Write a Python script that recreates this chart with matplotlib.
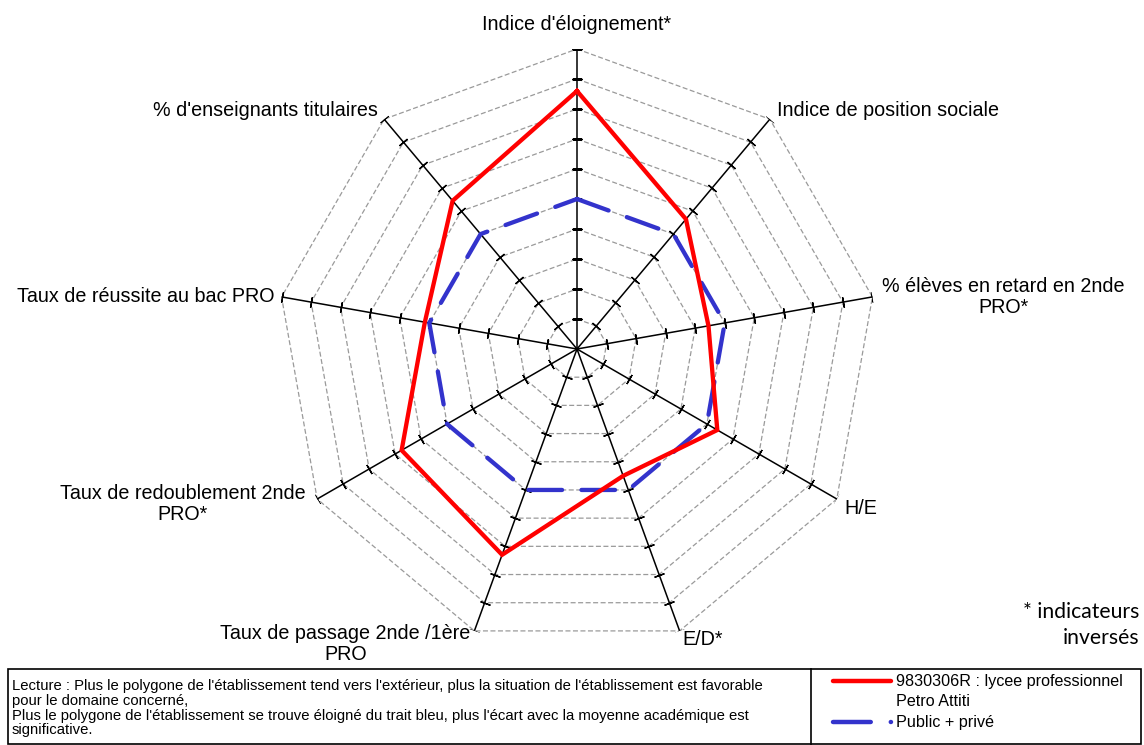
import numpy as np
import matplotlib
matplotlib.use("Agg")
import matplotlib.pyplot as plt
from matplotlib.patches import Rectangle
from matplotlib.lines import Line2D

# axes of the radar, clockwise from the top
labels = ["Indice d'éloignement*", "Indice de position sociale",
          "% élèves en retard en 2nde\nPRO*", "H/E", "E/D*",
          "Taux de passage 2nde /1ère\nPRO", "Taux de redoublement 2nde\nPRO*",
          "Taux de réussite au bac PRO", "% d'enseignants titulaires"]
etab = [8.6, 5.65, 4.45, 5.4, 4.5, 7.3, 6.75, 5.15, 6.45]   # 9830306R
acad = [5, 5, 5, 5, 5, 5, 5, 5, 5]                          # Public + privé
rings = np.arange(1, 11)

etab_name = "9830306R : lycee professionnel\nPetro Attiti"
acad_name = "Public + privé"
lecture = ("Lecture : Plus le polygone de l'établissement tend vers l'extérieur, plus la situation de l'établissement est favorable\n"
           "pour le domaine concerné,\n"
           "Plus le polygone de l'établissement se trouve éloigné du trait bleu, plus l'écart avec la moyenne académique est\n"
           "significative.")

plt.rcParams['font.family'] = ['Liberation Sans', 'DejaVu Sans']

W, H = 1144, 745
fig = plt.figure(figsize=(W / 100, H / 100), dpi=100)
cx, cy, R = 577, 349, 300
ax = fig.add_axes([(cx - R) / W, (H - cy - R) / H, 2 * R / W, 2 * R / H], projection='polar')
ax.set_theta_offset(np.pi / 2)
ax.set_theta_direction(-1)
ax.set_ylim(0, 10)
ax.grid(False)
ax.spines['polar'].set_visible(False)
ax.set_xticks([])
ax.set_yticks([])
ax.patch.set_visible(False)

n = len(labels)
ang = np.arange(n) * 2 * np.pi / n
ang_c = np.append(ang, ang[0])

# dashed polygon grid
for k in rings:
    ax.plot(ang_c, [k] * (n + 1), color='#9a9a9a', lw=0.9, ls=(0, (4, 2)), zorder=1)

# axes lines with ticks
for i, a in enumerate(ang):
    ax.plot([a, a], [0, rings[-1]], color='black', lw=1.1, zorder=2)
    rot = 90 - np.degrees(a)
    ax.plot([a] * len(rings), rings, ls='none', marker=(2, 2, rot),
            ms=7.5, mec='black', mew=1.0, zorder=2)

ax.plot(ang_c, etab + etab[:1], color='#ff0000', lw=3.1, zorder=4, solid_joinstyle='miter')
ax.plot(ang_c, acad + acad[:1], color='#3333cc', lw=3.1, zorder=3,
        dashes=(7.8, 4.5), dash_capstyle='round')

# axis labels
offs = [(0, 24, 'center', 'center'), (7, 9, 'left', 'center'), (10, 0, 'left', 'center'),
        (8, -9, 'left', 'center'), (3, -9, 'left', 'center'), (-4, -13, 'right', 'center'),
        (-12, -5, 'right', 'center'), (-7, 0, 'right', 'center'), (-6, 9, 'right', 'center')]
for a, lab, (dx, dy, ha, va) in zip(ang, labels, offs):
    ax.annotate(lab, xy=(a, 10), xytext=(dx, dy), textcoords='offset pixels',
                ha=ha, va=va, multialignment='center', fontsize=14.2, linespacing=1.15)

fig.text(1139 / W, 1 - 612 / H, "* indicateurs", ha='right', va='center',
         fontsize=15.2, family=['Lato', 'DejaVu Sans'])
fig.text(1139 / W, 1 - 638 / H, "inversés", ha='right', va='center',
         fontsize=15.2, family=['Lato', 'DejaVu Sans'])

# bottom box
fig.patches.append(Rectangle((8 / W, 1 / H), 1133 / W, 75 / H, transform=fig.transFigure,
                             fill=False, ec='black', lw=1.2))
fig.lines.append(Line2D([811 / W, 811 / W], [1 / H, 76 / H], transform=fig.transFigure,
                        color='black', lw=1.2))
fig.text(12 / W, 1 - 679 / H, lecture, ha='left', va='top', fontsize=10.7, linespacing=1.07)

fig.lines.append(Line2D([833 / W, 891 / W], [1 - 681 / H, 1 - 681 / H], transform=fig.transFigure,
                        color='#ff0000', lw=3.2, solid_capstyle='round'))
fig.lines.append(Line2D([833 / W, 891 / W], [1 - 722 / H, 1 - 722 / H], transform=fig.transFigure,
                        color='#3333cc', lw=3.2, dashes=(8.5, 4.5), dash_capstyle='round'))
fig.text(896 / W, 1 - 674 / H, etab_name, ha='left', va='top', fontsize=11.6, linespacing=1.4)
fig.text(896 / W, 1 - 722 / H, acad_name, ha='left', va='center', fontsize=11.6)

fig.savefig("out.png", dpi=100)
